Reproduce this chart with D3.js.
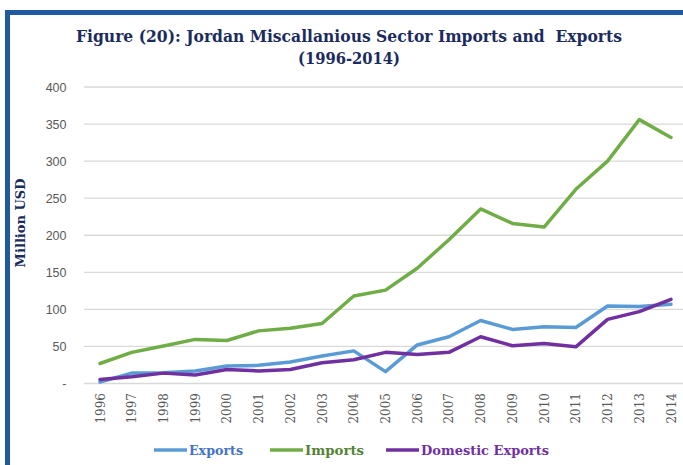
<!DOCTYPE html>
<html>
<head>
<meta charset="utf-8">
<script src="https://cdnjs.cloudflare.com/ajax/libs/d3/7.8.5/d3.min.js"></script>
<style>
  body { margin: 0; background: #fff; }
  svg { display: block; }
</style>
</head>
<body>
<div id="chart_div"></div>
<script>
const years = ["1996", "1997", "1998", "1999", "2000", "2001", "2002", "2003", "2004", "2005",
    "2006", "2007", "2008", "2009", "2010", "2011", "2012", "2013", "2014"];
const exportsVals = [2, 14, 14.5, 17, 23.5, 24.5, 29, 37, 44, 16, 52, 63, 85, 73, 76.5, 75.5, 104.5, 104, 107];
const importsVals = [27, 42, 50.5, 59.5, 58, 71, 74.5, 81, 118, 126, 155.5, 194, 235.5, 216, 211, 262, 300, 356, 332];
const domesticVals = [5.5, 9, 14, 11.5, 19, 17, 19, 28, 32, 42, 39, 42, 63, 51, 54, 49.5, 86.5, 97, 113.5];
const yTicks = [0, 50, 100, 150, 200, 250, 300, 350, 400];

const WIDTH = 683;
const HEIGHT = 465;

var series = [
    { name: "Exports", values: exportsVals, line: "#5b9bd5", text: "#4472c4" },
    { name: "Imports", values: importsVals, line: "#70ad47", text: "#548235" },
    { name: "Domestic Exports", values: domesticVals, line: "#7030a0", text: "#7030a0" }
];

var svg = d3.select("#chart_div")
    .append("svg")
    .attr("width", WIDTH)
    .attr("height", HEIGHT);

// blue frame (only top and left edges are visible)
svg.append("rect").attr("x", 5).attr("y", 10).attr("width", WIDTH).attr("height", 5).attr("fill", "#1f5aa0");
svg.append("rect").attr("x", 5).attr("y", 10).attr("width", 5).attr("height", HEIGHT).attr("fill", "#1f5aa0");

// title
var title = svg.append("text")
    .attr("x", 349)
    .attr("text-anchor", "middle")
    .style("font-family", "'DejaVu Serif', serif")
    .style("font-weight", "bold")
    .style("font-size", "17px")
    .style("fill", "#1c2b5e")
    .style("white-space", "pre");
title.append("tspan").attr("x", 349).attr("y", 42)
    .attr("textLength", 546).attr("lengthAdjust", "spacingAndGlyphs")
    .text("Figure (20): Jordan Miscallanious Sector Imports and  Exports");
title.append("tspan").attr("x", 349).attr("y", 64)
    .attr("textLength", 102).attr("lengthAdjust", "spacingAndGlyphs")
    .text("(1996-2014)");

var x = d3.scalePoint()
    .domain(years)
    .range([100, 671]);

var y = d3.scaleLinear()
    .domain([0, 400])
    .range([383.5, 87]);

// gridlines
svg.append("g")
    .selectAll("line")
    .data(yTicks.filter(d => d > 0))
    .enter()
    .append("line")
    .attr("x1", 84)
    .attr("x2", WIDTH)
    .attr("y1", d => y(d))
    .attr("y2", d => y(d))
    .style("stroke", "#d9d9d9")
    .style("stroke-width", 1.3);

// x axis line
svg.append("line")
    .attr("x1", 84).attr("x2", WIDTH)
    .attr("y1", y(0)).attr("y2", y(0))
    .style("stroke", "#d9d9d9")
    .style("stroke-width", 1.3);

// y tick labels (zero shown as a dash like Excel accounting format)
svg.append("g")
    .selectAll("text")
    .data(yTicks)
    .enter()
    .append("text")
    .attr("x", 66.5)
    .attr("y", d => y(d) + 4.5)
    .attr("text-anchor", "end")
    .text(d => d === 0 ? "-" : d)
    .style("font-family", "'Liberation Sans', Arial, sans-serif")
    .style("font-size", "12.5px")
    .style("fill", "#595959");

// x tick labels, rotated
svg.append("g")
    .selectAll("text")
    .data(years)
    .enter()
    .append("text")
    .attr("transform", d => "translate(" + (x(d) + 4.5) + ",393) rotate(-90)")
    .attr("text-anchor", "end")
    .text(d => d)
    .style("font-family", "'DejaVu Serif', serif")
    .style("font-size", "12px")
    .style("fill", "#595959");

// y axis title
svg.append("text")
    .attr("transform", "translate(25,223) rotate(-90)")
    .attr("text-anchor", "middle")
    .text("Million USD")
    .style("font-family", "'DejaVu Serif', serif")
    .style("font-weight", "bold")
    .style("font-size", "13px")
    .style("fill", "#1c2b5e");

var line = d3.line()
    .x((d, i) => x(years[i]))
    .y(d => y(d));

svg.append("g")
    .selectAll("path")
    .data(series)
    .enter()
    .append("path")
    .attr("d", d => line(d.values))
    .style("fill", "none")
    .style("stroke", d => d.line)
    .style("stroke-width", 3.5)
    .style("stroke-linejoin", "round")
    .style("stroke-linecap", "round");

// legend
var legendX = [154, 270, 386];
var legendW = [54, 59, 128];
var legend = svg.append("g")
    .selectAll("g")
    .data(series)
    .enter()
    .append("g")
    .attr("transform", (d, i) => "translate(" + legendX[i] + ",450)");

legend.append("line")
    .attr("x1", 0).attr("x2", 33)
    .style("stroke", d => d.line)
    .style("stroke-width", 3.5);

legend.append("text")
    .attr("x", 35)
    .attr("y", 5)
    .attr("textLength", (d, i) => legendW[i])
    .attr("lengthAdjust", "spacingAndGlyphs")
    .text(d => d.name)
    .style("font-family", "'DejaVu Serif', serif")
    .style("font-weight", "bold")
    .style("font-size", "13px")
    .style("fill", d => d.text);
</script>
</body>
</html>
